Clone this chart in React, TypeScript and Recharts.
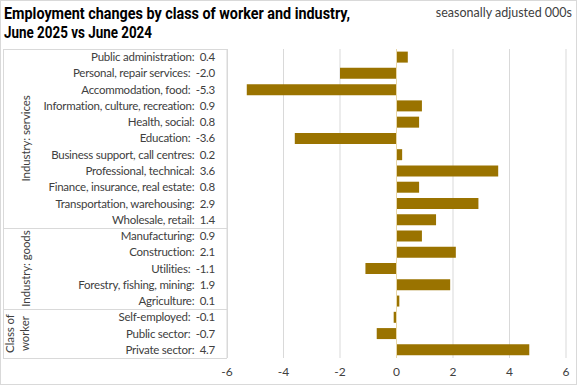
import { BarChart, Bar, XAxis, YAxis, CartesianGrid, ReferenceLine } from 'recharts';

const categories = [
  'Public administration',
  'Personal, repair services',
  'Accommodation, food',
  'Information, culture, recreation',
  'Health, social',
  'Education',
  'Business support, call centres',
  'Professional, technical',
  'Finance, insurance, real estate',
  'Transportation, warehousing',
  'Wholesale, retail',
  'Manufacturing',
  'Construction',
  'Utilities',
  'Forestry, fishing, mining',
  'Agriculture',
  'Self-employed',
  'Public sector',
  'Private sector',
];
const changes = [0.4, -2.0, -5.3, 0.9, 0.8, -3.6, 0.2, 3.6, 0.8, 2.9, 1.4, 0.9, 2.1, -1.1, 1.9, 0.1, -0.1, -0.7, 4.7];
const groupNames = [['Industry: services'], ['Industry: goods'], ['Class of', 'worker']];
const groupSizes = [11, 5, 3];
const xTicks = [-6, -4, -2, 0, 2, 4, 6];

const data = categories.map((c, i) => ({
  label: `${c}:\u00a0 ${changes[i].toFixed(1)}`,
  value: changes[i],
}));

// layout
const W = 577;
const H = 385;
const TOP = 49;
const AXIS_H = 27;
const LEFT_W = 227;
const RIGHT = 11;
const BOTTOM = H - AXIS_H;
const band = (BOTTOM - TOP) / categories.length;
const BAR = '#9A7300';
const FONT = 'Lato, "Open Sans", sans-serif';
const TITLE_FONT = 'Roboto, "DejaVu Sans", sans-serif';

const YTick = (props: any) => {
  const { y, payload } = props;
  return (
    <text x={LEFT_W - 12} y={y} dy="0.35em" textAnchor="end" fontSize={11.5} letterSpacing={-0.25} fill="#404040" fontFamily={FONT}>
      {payload.value}
    </text>
  );
};

const XTick = (props: any) => {
  const { x, y, payload } = props;
  return (
    <text x={x} y={y} dy={10} textAnchor="middle" fontSize={12} fill="#404040" fontFamily={FONT}>
      {payload.value}
    </text>
  );
};

const App = () => {
  // group boundaries in the left label table
  let acc = 0;
  const groups = groupSizes.map((n, i) => {
    const y0 = TOP + acc * band;
    acc += n;
    const y1 = TOP + acc * band;
    return { names: groupNames[i], y0, y1 };
  });

  return (
    <div style={{ position: 'absolute', left: 0, top: 0, width: W, height: H, background: '#fff' }}>
      <BarChart
        width={W}
        height={H}
        data={data}
        layout="vertical"
        margin={{ top: TOP, right: RIGHT, bottom: 0, left: 0 }}
        barCategoryGap="16%"
      >
        <CartesianGrid horizontal={false} stroke="#d9d9d9" />
        <XAxis
          type="number"
          domain={[-6, 6]}
          ticks={xTicks}
          axisLine={false}
          tickLine={false}
          height={AXIS_H}
          tick={<XTick />}
        />
        <YAxis
          type="category"
          dataKey="label"
          width={LEFT_W}
          axisLine={false}
          tickLine={false}
          interval={0}
          tick={<YTick />}
        />
        <ReferenceLine x={0} stroke="#E8D7A8" strokeWidth={1} />
        <Bar dataKey="value" fill={BAR} isAnimationActive={false} />
      </BarChart>

      <svg width={W} height={H} style={{ position: 'absolute', left: 0, top: 0, pointerEvents: 'none' }}>
        <rect x={0.5} y={0.5} width={W - 1} height={H - 1} fill="none" stroke="#d9d9d9" />
        <text x={4} y={19} fontSize={17} fontWeight="bold" fill="#000" fontFamily={TITLE_FONT}
          textLength={346} lengthAdjust="spacingAndGlyphs">
          Employment changes by class of worker and industry,
        </text>
        <text x={4} y={38} fontSize={17} fontWeight="bold" fill="#000" fontFamily={TITLE_FONT}
          textLength={148} lengthAdjust="spacingAndGlyphs">
          June 2025 vs June 2024
        </text>
        <text x={572} y={17} textAnchor="end" fontSize={12.5} fill="#404040" fontFamily={FONT}>
          seasonally adjusted 000s
        </text>

        {/* label table */}
        <line x1={3} x2={LEFT_W} y1={TOP + 0.5} y2={TOP + 0.5} stroke="#d9d9d9" />
        <line x1={3.5} x2={3.5} y1={TOP} y2={BOTTOM} stroke="#d9d9d9" />
        <line x1={LEFT_W + 0.5} x2={LEFT_W + 0.5} y1={TOP} y2={BOTTOM} stroke="#d9d9d9" />
        {groups.map((g, i) => (
          <g key={i}>
            <line x1={3} x2={LEFT_W} y1={Math.round(g.y1) + 0.5} y2={Math.round(g.y1) + 0.5} stroke="#d9d9d9" />
            {g.names.map((nm, j) => {
              const cx = g.names.length === 1 ? 26 : 10 + j * 15;
              const cy = (g.y0 + g.y1) / 2;
              return (
                <text
                  key={j}
                  x={cx}
                  y={cy}
                  dy="0.35em"
                  textAnchor="middle"
                  fontSize={11.5}
                  letterSpacing={-0.1}
                  fill="#404040"
                  fontFamily={FONT}
                  transform={`rotate(-90 ${cx} ${cy})`}
                >
                  {nm}
                </text>
              );
            })}
          </g>
        ))}
      </svg>
    </div>
  );
};

export default App;
